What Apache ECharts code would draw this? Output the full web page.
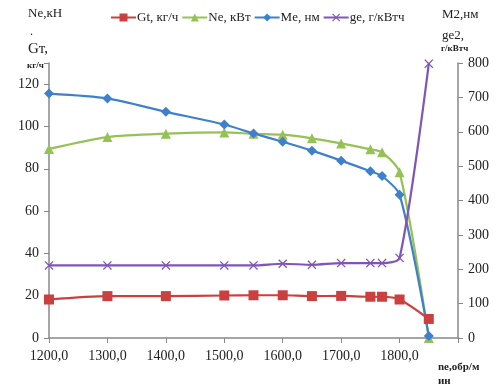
<!DOCTYPE html>
<html><head><meta charset="utf-8">
<script src="https://cdn.jsdelivr.net/npm/echarts@6/dist/echarts.min.js"></script>
<style>html,body{margin:0;padding:0;background:#fff}#c{width:503px;height:391px}</style>
</head><body><div id="c"></div>
<script>
const rpm = [1200, 1300, 1400, 1500, 1550, 1600, 1650, 1700, 1750, 1770, 1800, 1850];
const gt = [18.2, 19.8, 19.8, 20.1, 20.2, 20.2, 19.8, 19.9, 19.5, 19.5, 18.2, 9.0];
const ne = [89.4, 95.0, 96.6, 97.2, 96.5, 96.1, 94.4, 92.0, 89.2, 87.8, 78.3, 0];
const me = [711, 697, 658, 621, 595, 571, 545, 516, 485, 471, 417, 6];
const ge = [211, 211, 211, 211, 211, 216, 213, 218, 218, 218, 233, 798];
const names = ['Gt, кг/ч', 'Ne, кВт', 'Me, нм', 'ge, г/кВтч'];
const colors = ['#cc3f3f', '#96c255', '#3f80cc', '#7f55b8'];

const pair = arr => rpm.map((x, i) => [x, arr[i]]);
const font = 'Liberation Serif';
const xSym = 'path://M0,1 L1,0 L5,4 L9,0 L10,1 L6,5 L10,9 L9,10 L5,6 L1,10 L0,9 L4,5 Z';

const chart = echarts.init(document.getElementById('c'));
chart.setOption({
  animation: false,
  color: colors,
  textStyle: { fontFamily: font },
  legend: {
    top: 6, left: 105, itemGap: 3, itemWidth: 25, itemHeight: 10,
    textStyle: { fontFamily: font, fontSize: 13, color: '#222', padding: [0, 0, 0, -4] },
    data: names
  },
  grid: { left: 49, right: 45, top: 63, bottom: 53 },
  xAxis: {
    type: 'value', min: 1200, max: 1900, interval: 100,
    axisLine: { lineStyle: { color: '#888', width: 1.5 } },
    axisTick: { show: true, length: 5, lineStyle: { color: '#888' } },
    splitLine: { show: false },
    axisLabel: {
      fontFamily: font, fontSize: 14, color: '#222', margin: 11,
      formatter: v => v === 1900 ? '' : v + ',0'
    }
  },
  yAxis: [
    {
      type: 'value', min: 0, max: 130, interval: 20, position: 'left',
      axisLine: { show: true, lineStyle: { color: '#888', width: 1.5 } },
      axisTick: { show: true, length: 5, lineStyle: { color: '#888' } },
      splitLine: { show: false },
      axisLabel: { fontFamily: font, fontSize: 14, color: '#222', margin: 10,
        formatter: v => v === 130 ? '' : String(v) }
    },
    {
      type: 'value', min: 0, max: 800, interval: 100, position: 'right',
      axisLine: { show: true, lineStyle: { color: '#888', width: 1.5 } },
      axisTick: { show: true, length: 5, lineStyle: { color: '#888' } },
      splitLine: { show: false },
      axisLabel: { fontFamily: font, fontSize: 14, color: '#222', margin: 10 }
    }
  ],
  series: [
    { name: names[0], type: 'line', yAxisIndex: 0, data: pair(gt), smooth: 0.25,
      symbol: 'rect', symbolSize: 10, lineStyle: { width: 2.2 } },
    { name: names[1], type: 'line', yAxisIndex: 0, data: pair(ne), smooth: 0.25,
      symbol: 'triangle', symbolSize: 10, lineStyle: { width: 2.2 } },
    { name: names[2], type: 'line', yAxisIndex: 1, data: pair(me), smooth: 0.25,
      symbol: 'diamond', symbolSize: 10, lineStyle: { width: 2.2 } },
    { name: names[3], type: 'line', yAxisIndex: 1, data: pair(ge), smooth: 0.25,
      symbol: xSym, symbolSize: 9, lineStyle: { width: 2.2 } }
  ],
  graphic: [
    { type: 'text', left: 28, top: 7, style: { text: 'Nе,кН', font: '13px "Liberation Serif"', fill: '#222' } },
    { type: 'text', left: 30, top: 26, style: { text: '.', font: '12px "Liberation Serif"', fill: '#222' } },
    { type: 'text', left: 28, top: 42, style: { text: 'Gт,', font: '15px "Liberation Serif"', fill: '#222' } },
    { type: 'text', left: 27, top: 61, style: { text: 'кг/ч', font: 'bold 9px "Liberation Serif"', fill: '#222' } },
    { type: 'text', left: 442, top: 8, style: { text: 'М2,нм', font: '13px "Liberation Serif"', fill: '#222' } },
    { type: 'text', left: 442, top: 29, style: { text: 'gе2,', font: '13px "Liberation Serif"', fill: '#222' } },
    { type: 'text', left: 441, top: 44, style: { text: 'г/кВтч', font: 'bold 9px "Liberation Serif"', fill: '#222' } },
    { type: 'text', left: 438, top: 360, style: { text: 'nе,обр/м\nин', font: 'bold 11px "Liberation Serif"', fill: '#222', lineHeight: 14 } }
  ]
});
</script></body></html>
